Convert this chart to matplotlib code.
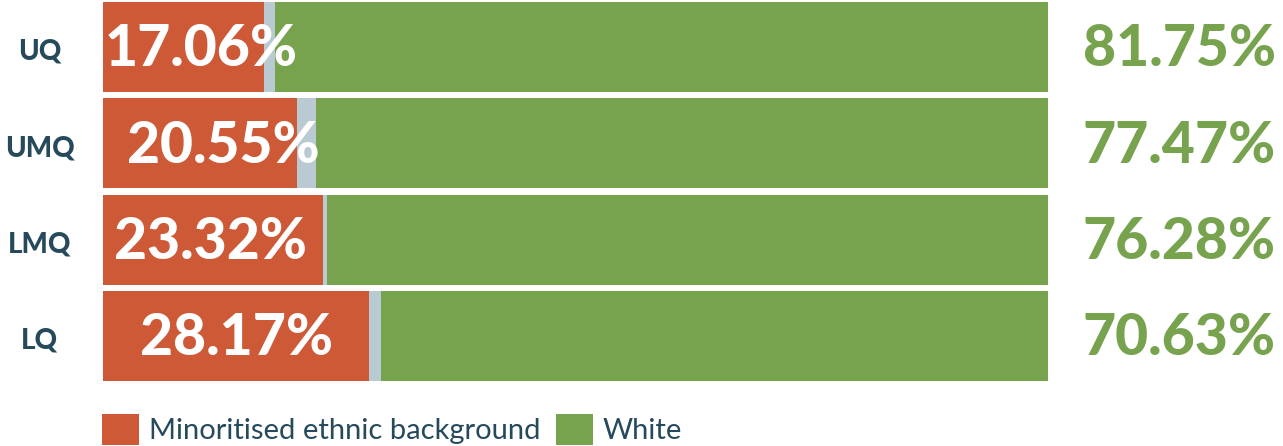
import matplotlib.pyplot as plt
import numpy as np

# data
groups = ['UQ', 'UMQ', 'LMQ', 'LQ']
minoritised = [17.06, 20.55, 23.32, 28.17]
white = [81.75, 77.47, 76.28, 70.63]
unknown = [100 - m - w for m, w in zip(minoritised, white)]

# label centres inside the red bars (data units)
inner_x = [10.4, 12.7, 11.4, 14.1]

red = '#CD5937'
green = '#77A34E'
grey = '#B9CAD3'
navy = '#264A5C'

plt.rcParams['font.family'] = ['Lato', 'DejaVu Sans']

W, H = 1283, 446
fig = plt.figure(figsize=(W / 100, H / 100), dpi=100)
ax = fig.add_axes([103 / W, 1 - 381 / H, 945 / W, 379 / H])

y = np.arange(len(groups))
h = 0.935
m = np.array(minoritised)
u = np.array(unknown)
b1 = ax.barh(y, m, height=h, color=red, label='Minoritised ethnic background')
ax.barh(y, u, left=m, height=h, color=grey)
b3 = ax.barh(y, white, left=m + u, height=h, color=green, label='White')

ax.set_xlim(0, 100)
ax.set_ylim(len(groups) - 1 + h / 2, -h / 2)
ax.axis('off')

for i in range(len(groups)):
    ax.text(inner_x[i], y[i] + 0.03, f'{minoritised[i]:.2f}%', color='white',
            fontsize=41, fontweight='black', ha='center', va='center')
    ax.text(113.9, y[i] + 0.03, f'{white[i]:.2f}%', color=green,
            fontsize=41, fontweight='black', ha='center', va='center', clip_on=False)
    ax.text(-6.7, y[i] + 0.05, groups[i], color=navy, fontsize=20,
            fontweight='black', ha='center', va='center', clip_on=False)

fig.legend(handles=[b1, b3], loc='lower left', bbox_to_anchor=(102 / W, 1 / H),
           ncol=2, frameon=False, fontsize=21, labelcolor=navy,
           handlelength=1.27, handleheight=1.27, handletextpad=0.33,
           columnspacing=0.55, borderpad=0, borderaxespad=0)

fig.savefig('out.png', dpi=100)
